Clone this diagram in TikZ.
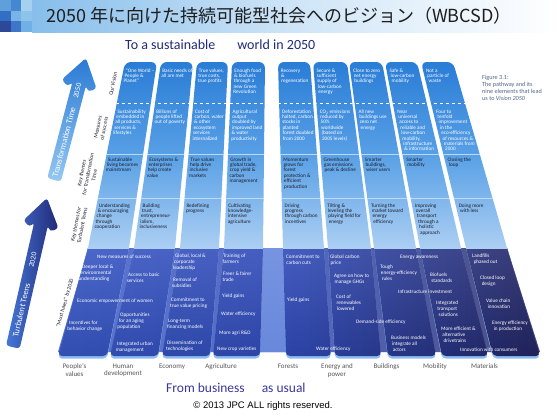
\documentclass[tikz,border=0pt]{standalone}
\usepackage{fontspec}
\setmainfont{Carlito}
\newfontfamily\cjkfont{Noto Sans CJK JP}
\newfontfamily\arialfont{Liberation Sans}
\usetikzlibrary{calc}
\definecolor{visTop}{RGB}{42,125,214}
\definecolor{visMid}{RGB}{88,160,230}
\definecolor{visBot}{RGB}{172,207,243}
\definecolor{bandLeft}{RGB}{56,88,198}
\definecolor{bandMid}{RGB}{48,74,182}
\definecolor{bandRight}{RGB}{34,36,96}
\definecolor{gapBlue}{RGB}{118,148,224}
\definecolor{rimBlue}{RGB}{140,188,240}
\definecolor{txtDark}{RGB}{28,28,40}
\definecolor{txtGray}{RGB}{85,85,85}
\definecolor{goalBlue}{RGB}{32,42,122}
\definecolor{bauBlue}{RGB}{55,55,155}
\definecolor{capBlue}{RGB}{80,100,140}
\definecolor{barBlue}{RGB}{135,190,235}
\definecolor{titleInk}{RGB}{30,30,30}
\definecolor{arrLightTop}{RGB}{42,122,212}
\definecolor{arrLightBot}{RGB}{150,200,242}
\definecolor{arrDarkL}{RGB}{70,120,215}
\definecolor{arrDarkR}{RGB}{34,40,120}
\tikzset{
  vistxt/.style={font=\fontsize{5.2}{5.4}\selectfont, text=white, anchor=base west, inner sep=0pt},
  themetxt/.style={vistxt, text=txtDark},
  bandtxt/.style={vistxt},
  sidelbl/.style={font=\fontsize{5.6}{6.4}\selectfont, text=txtDark, align=center, inner sep=0pt},
  sectorlbl/.style={font=\fontsize{7}{7.8}\selectfont, text=txtGray, align=center, inner sep=0pt, anchor=north},
  arrowtxt/.style={font=\fontsize{8.5}{9}\selectfont, text=white, inner sep=0pt, transform shape, rotate=90},
  yeartxt/.style={arrowtxt, font=\fontsize{7.5}{8}\selectfont},
}
% column corners: top left / top right / bottom right / bottom left
\def\viscols{125/157/129/88, 161/193/175/134, 197/228/219/180, 232/265/263/224, 278/310/324/283, 313/347/371/328, 349/382/416/374, 385/417/461/420, 421/453/507/466}
\def\bandcols{88/129/107/58, 134/175/158/110, 180/219/210/162, 224/263/260/213, 283/324/331/286, 328/371/381/335, 374/416/436/388, 420/461/488/442, 466/507/540/493}
% text lines of one upper cell: name, style, column top x, edge slope, first baseline, lines
\newcommand{\vislines}[6]{%
  \foreach \cl [count=\k from 0] in {#6}{
    \node[#2] (#1-\k) at ({#3+(#4)*(#5+\k*5.4-62)+2.5},{#5+\k*5.4}) {\cl};
  }%
}
% text lines of one band cell: name, x, first baseline, slope, lines
\newcommand{\bandlines}[5]{%
  \foreach \cl [count=\k from 0] in {#5}{
    \node[bandtxt] (#1-\k) at ({#2+(#4)*\k*6},{#3+\k*6}) {\cl};
  }%
}
\newcommand{\arrowoutline}[1]{(0,0) -- (18,27) -- (10.5,32) -- (7,26.7) -- (7,#1) -- (-7,#1) -- (-7,26.7) -- (-10.5,32) -- (-18,27) -- cycle}
\begin{document}
\begin{tikzpicture}[x=1pt,y=-1pt,line join=round]
\useasboundingbox (0,0) rectangle (560,415);

% title bar
\shade[left color=barBlue, right color=white, middle color=barBlue!40] (32,0) rectangle (560,32);
\foreach \i/\j/\red/\grn/\blu in {0/0/95/160/220, 1/0/70/135/210, 2/0/165/208/240, 0/1/50/110/195, 1/1/120/180/230, 2/1/140/196/236, 0/2/45/72/152, 1/2/62/118/202, 2/2/112/176/230}
  \fill[fill={rgb,255:red,\red;green,\grn;blue,\blu}] ({\i*10.67},{\j*10.67}) rectangle ++(10.67,10.67);
\node[font=\cjkfont\fontsize{18}{20}\selectfont, text=titleInk, anchor=west, inner sep=0pt] (title) at (46,16) {2050 年に向けた持続可能型社会へのビジョン（WBCSD）};

\node[font=\fontsize{14}{15}\selectfont, text=goalBlue, anchor=base west, inner sep=0pt] (goal) at (125,49.5) {To a sustainable\hspace{22pt}world in 2050};

% must-haves band
\begin{scope}
  \clip (0,248) rectangle (560,365);
  \shade[left color=bandLeft, right color=bandRight, middle color=bandMid] (88,248) -- (507,248) -- (540,352) -- (58,352) -- cycle;
  \fill[white, opacity=0.18] (88,248) -- (507,248) -- (540,352) -- (58,352) -- cycle;
  \shade[top color=gapBlue, bottom color=gapBlue!80!bandLeft] (262,248) -- (284,248) -- (287,352) -- (259,352) -- cycle;
  \foreach \xtl/\xtr/\xbr/\xbl in \bandcols
    \fill[rimBlue, rounded corners=4pt] ({\xtl-(\xbl-\xtl)*0.074},240) -- ({\xtr-(\xbr-\xtr)*0.074},240) -- (\xbr,358.5) -- (\xbl,358.5) -- cycle;
  \begin{scope}
    \clip[rounded corners=4pt] \foreach \xtl/\xtr/\xbr/\xbl in \bandcols {({\xtl-(\xbl-\xtl)*0.074},240) -- ({\xtr-(\xbr-\xtr)*0.074},240) -- (\xbr,356) -- (\xbl,356) -- cycle};
    \shade[left color=bandLeft, right color=bandRight, middle color=bandMid] (55,240) rectangle (545,360);
    \shade[top color=white, bottom color=black, opacity=0.1] (55,248) rectangle (545,356);
  \end{scope}
\end{scope}

% vision panel
\begin{scope}
  \clip (0,0) rectangle (560,248);
  \begin{scope}
    \clip[rounded corners=6pt] \foreach \xtl/\xtr/\xbr/\xbl in \viscols {(\xtl,62) -- (\xtr,62) -- ({\xbr+(\xbr-\xtr)*0.043},256) -- ({\xbl+(\xbl-\xtl)*0.043},256) -- cycle};
    \shade[top color=visTop, bottom color=visBot, middle color=visMid] (80,62) rectangle (520,248);
    \draw[white, dashed, line width=0.4pt] (80,103) -- (520,103);
    \draw[white, opacity=0.6, line width=0.5pt] (80,154) -- (520,154);
    \draw[white, opacity=0.5, line width=0.5pt] (80,198) -- (520,198);
  \end{scope}
\end{scope}

% people's values
\vislines{pv-vision}{vistxt}{125}{-0.199}{72}{{“One World –},{People \&},{Planet”}}
\vislines{pv-measure}{vistxt}{125}{-0.199}{113}{{Sustainability},{embedded in},{all products,},{services \&},{lifestyles}}
\vislines{pv-trans}{themetxt}{125}{-0.199}{161}{{Sustainable},{living becomes},{mainstream}}
\vislines{pv-teens}{themetxt}{125}{-0.199}{207}{{Understanding},{\& encouraging},{change},{through},{cooperation}}
% human development
\vislines{hd-vision}{vistxt}{161}{-0.145}{72}{{Basic needs of},{all are met}}
\vislines{hd-measure}{vistxt}{161}{-0.145}{113}{{Billions of},{people lifted},{out of poverty}}
\vislines{hd-trans}{themetxt}{161}{-0.145}{161}{{Ecosystems \&},{enterprises},{help create},{value}}
\vislines{hd-teens}{themetxt}{161}{-0.145}{207}{{Building},{trust,},{entrepreneur-},{ialism,},{inclusiveness}}
% economy
\vislines{ec-vision}{vistxt}{197}{-0.091}{72}{{True values,},{true costs,},{true profits}}
\vislines{ec-measure}{vistxt}{197}{-0.091}{113}{{Cost of},{carbon, water},{\& other},{ecosystem},{services},{internalized}}
\vislines{ec-trans}{themetxt}{197}{-0.091}{161}{{True values},{help drive},{inclusive},{markets}}
\vislines{ec-teens}{themetxt}{197}{-0.091}{207}{{Redefining},{progress}}
% agriculture
\vislines{ag-vision}{vistxt}{232}{-0.043}{72}{{Enough food},{\& biofuels},{through a},{new Green},{Revolution}}
\vislines{ag-measure}{vistxt}{232}{-0.043}{113}{{Agricultural},{output},{doubled by},{improved land},{\& water},{productivity}}
\vislines{ag-trans}{themetxt}{232}{-0.043}{161}{{Growth in},{global trade,},{crop yield \&},{carbon},{management}}
\vislines{ag-teens}{themetxt}{232}{-0.043}{207}{{Cultivating},{knowledge-},{intensive},{agriculture}}
% forests
\vislines{fo-vision}{vistxt}{278}{0.027}{72}{{Recovery},{\&},{regeneration}}
\vislines{fo-measure}{vistxt}{278}{0.027}{113}{{Deforestation},{halted, carbon},{stocks in},{planted},{forest doubled},{from 2000}}
\vislines{fo-trans}{themetxt}{278}{0.027}{161}{{Momentum},{grows for},{forest},{protection \&},{efficient},{production}}
\vislines{fo-teens}{themetxt}{278}{0.027}{207}{{Driving},{progress},{through carbon},{incentives}}
% energy and power
\vislines{en-vision}{vistxt}{313}{0.081}{72}{{Secure \&},{sufficient},{supply of},{low-carbon},{energy}}
\vislines{en-measure}{vistxt}{313}{0.081}{113}{{CO\textsubscript{2} emissions},{reduced by},{50\%},{worldwide},{(based on},{2005 levels)}}
\vislines{en-trans}{themetxt}{313}{0.081}{161}{{Greenhouse},{gas emissions},{peak \& decline}}
\vislines{en-teens}{themetxt}{313}{0.081}{207}{{Tilting \&},{leveling the},{playing field for},{energy}}
% buildings
\vislines{bu-vision}{vistxt}{349}{0.134}{72}{{Close to zero},{net energy},{buildings}}
\vislines{bu-measure}{vistxt}{349}{0.134}{113}{{All new},{buildings use},{zero net},{energy}}
\vislines{bu-trans}{themetxt}{349}{0.134}{161}{{Smarter},{buildings,},{wiser users}}
\vislines{bu-teens}{themetxt}{349}{0.134}{207}{{Turning the},{market toward},{energy},{efficiency}}
% mobility
\vislines{mo-vision}{vistxt}{385}{0.188}{72}{{Safe \&},{low-carbon},{mobility}}
\vislines{mo-measure}{vistxt}{385}{0.188}{113}{{Near},{universal},{access to},{reliable and},{low-carbon},{mobility,},{infrastructure},{\& information}}
\vislines{mo-trans}{themetxt}{385}{0.188}{161}{{Smarter},{mobility}}
\vislines{mo-teens}{themetxt}{385}{0.188}{207}{{Improving},{overall},{transport},{through a},{holistic},{approach}}
% materials
\vislines{ma-vision}{vistxt}{421}{0.242}{72}{{Not a},{particle of},{waste}}
\vislines{ma-measure}{vistxt}{421}{0.242}{113}{{Four to},{tenfold},{improvement},{in the},{eco-efficiency},{of resources \&},{materials from},{2000}}
\vislines{ma-trans}{themetxt}{421}{0.242}{161}{{Closing the},{loop}}
\vislines{ma-teens}{themetxt}{421}{0.242}{207}{{Doing more},{with less}}

% must haves by 2020
\bandlines{mh-success}{97}{258.6}{0}{{New measures of success}}
\bandlines{mh-local}{82}{268.6}{-0.29}{{Deeper local \&},{environmental},{understanding}}
\bandlines{mh-women}{77}{302.6}{0}{{Economic empowerment of women}}
\bandlines{mh-incent}{69}{324.6}{-0.29}{{Incentives for},{behavior change}}
\bandlines{mh-access}{128}{276.6}{-0.23}{{Access to basic},{services}}
\bandlines{mh-aging}{120}{316.6}{-0.23}{{Opportunities},{for an aging},{population}}
\bandlines{mh-urban}{117}{345.6}{-0.23}{{Integrated urban},{management}}
\bandlines{mh-lead}{175}{257.6}{-0.17}{{Global, local \&},{corporate},{leadership}}
\bandlines{mh-subs}{173}{281.6}{-0.17}{{Removal of},{subsidies}}
\bandlines{mh-pricing}{171}{301.6}{-0.17}{{Commitment to},{true value pricing}}
\bandlines{mh-finance}{168}{322}{-0.17}{{Long-term},{financing models}}
\bandlines{mh-tech}{167}{344.6}{-0.17}{{Dissemination of},{technologies}}
\bandlines{mh-farm}{223}{257.6}{-0.11}{{Training of},{farmers}}
\bandlines{mh-trade}{223}{275.6}{-0.11}{{Freer \& fairer},{trade}}
\bandlines{mh-yield}{222}{297.6}{0}{{Yield gains}}
\bandlines{mh-water}{221}{315.6}{0}{{Water efficiency}}
\bandlines{mh-rd}{219}{334.6}{0}{{More agri R\&D}}
\bandlines{mh-crop}{217}{350.6}{0}{{New crop varieties}}
\bandlines{mh-cuts}{286}{258.6}{0.03}{{Commitment to},{carbon cuts}}
\bandlines{mh-fyield}{287}{301.6}{0}{{Yield gains}}
\bandlines{mh-fwater}{316}{350.6}{0}{{Water efficiency}}
\bandlines{mh-price}{330}{258.6}{0.07}{{Global carbon},{price}}
\bandlines{mh-ghg}{334}{277.6}{0.07}{{Agree on how to},{manage GHGs}}
\bandlines{mh-renew}{336}{298.6}{0.07}{{Cost of},{renewables},{lowered}}
\bandlines{mh-demand}{356}{323.6}{0}{{Demand-side efficiency}}
\bandlines{mh-aware}{400}{258.6}{0}{{Energy awareness}}
\bandlines{mh-rules}{380}{268.6}{0.13}{{Tough},{energy-efficiency},{rules}}
\bandlines{mh-infra}{398}{293.6}{0}{{Infrastructure investment}}
\bandlines{mh-actors}{391}{339.6}{0.13}{{Business models},{integrate all},{actors}}
\bandlines{mh-biofuel}{430}{276.6}{0.21}{{Biofuels},{standards}}
\bandlines{mh-transport}{436}{304.6}{0.21}{{Integrated},{transport},{solutions}}
\bandlines{mh-drive}{441}{330.6}{0.21}{{More efficient \&},{alternative},{drivetrains}}
\bandlines{mh-consumer}{460}{351.6}{0}{{Innovation with consumers}}
\bandlines{mh-landfill}{472}{257.6}{0.26}{{Landfills},{phased out}}
\bandlines{mh-loop}{480}{279.6}{0.26}{{Closed loop},{design}}
\bandlines{mh-chain}{486}{302.3}{0.26}{{Value chain},{innovation}}
\bandlines{mh-effprod}{492}{324.3}{0.26}{{Energy efficiency},{in production}}

% time arrows
\begin{scope}[shift={(86,58)}, rotate=-14.7]
  \shade[top color=arrLightTop, bottom color=arrLightBot, rounded corners=3pt] \arrowoutline{126};
  \node[yeartxt] (year-2050) at (0,34) {2050};
  \node[arrowtxt] (trans-time) at (0,87) {Transformation Time};
\end{scope}
\begin{scope}[shift={(47,198)}, rotate=-12.9]
  \shade[left color=arrDarkL, right color=arrDarkR, rounded corners=3pt] \arrowoutline{153};
  \node[yeartxt] (year-2020) at (0,63.6) {2020};
  \node[arrowtxt] (teens-time) at (0,115) {Turbulent Teens};
\end{scope}

% row labels
\node[sidelbl, rotate=79] (lbl-vision) at (113,84) {Our Vision};
\node[sidelbl, rotate=79] (lbl-measures) at (101,128) {Measures\\of success};
\node[sidelbl, rotate=79] (lbl-trans) at (88,174) {Key themes\\for Transformation\\Time};
\node[sidelbl, rotate=79] (lbl-teens) at (79,225) {Key themes for\\Turbulent Teens};
\node[sidelbl, rotate=74] (lbl-must) at (65,303) {“Must haves” by 2020};

% sectors
\node[sectorlbl] (sec-people) at (74.5,363.5) {People’s\\values};
\node[sectorlbl] (sec-human) at (123,363.5) {Human\\development};
\node[sectorlbl] (sec-economy) at (172,363.5) {Economy};
\node[sectorlbl] (sec-agri) at (221,363.5) {Agriculture};
\node[sectorlbl] (sec-forest) at (288,363.5) {Forests};
\node[sectorlbl] (sec-energy) at (337,363.5) {Energy and\\power};
\node[sectorlbl] (sec-build) at (386.5,363.5) {Buildings};
\node[sectorlbl] (sec-mobil) at (435,363.5) {Mobility};
\node[sectorlbl] (sec-mater) at (484.5,363.5) {Materials};

\node[font=\fontsize{13.5}{14}\selectfont, text=bauBlue, anchor=base west, inner sep=0pt] (bau) at (166,392.5) {From business\hspace{17pt}as usual};
\node[font=\arialfont\fontsize{9.5}{10}\selectfont, text=black, inner sep=0pt] (copyright) at (263,406.5) {© 2013 JPC ALL rights reserved.};

\node[font=\fontsize{6.2}{7}\selectfont, text=capBlue, align=left, anchor=north west, inner sep=0pt] (fig-cap) at (482,75.5) {Figure 3.1:\\The pathway and its\\nine elements that lead\\us to \textit{Vision 2050}};
\end{tikzpicture}
\end{document}
